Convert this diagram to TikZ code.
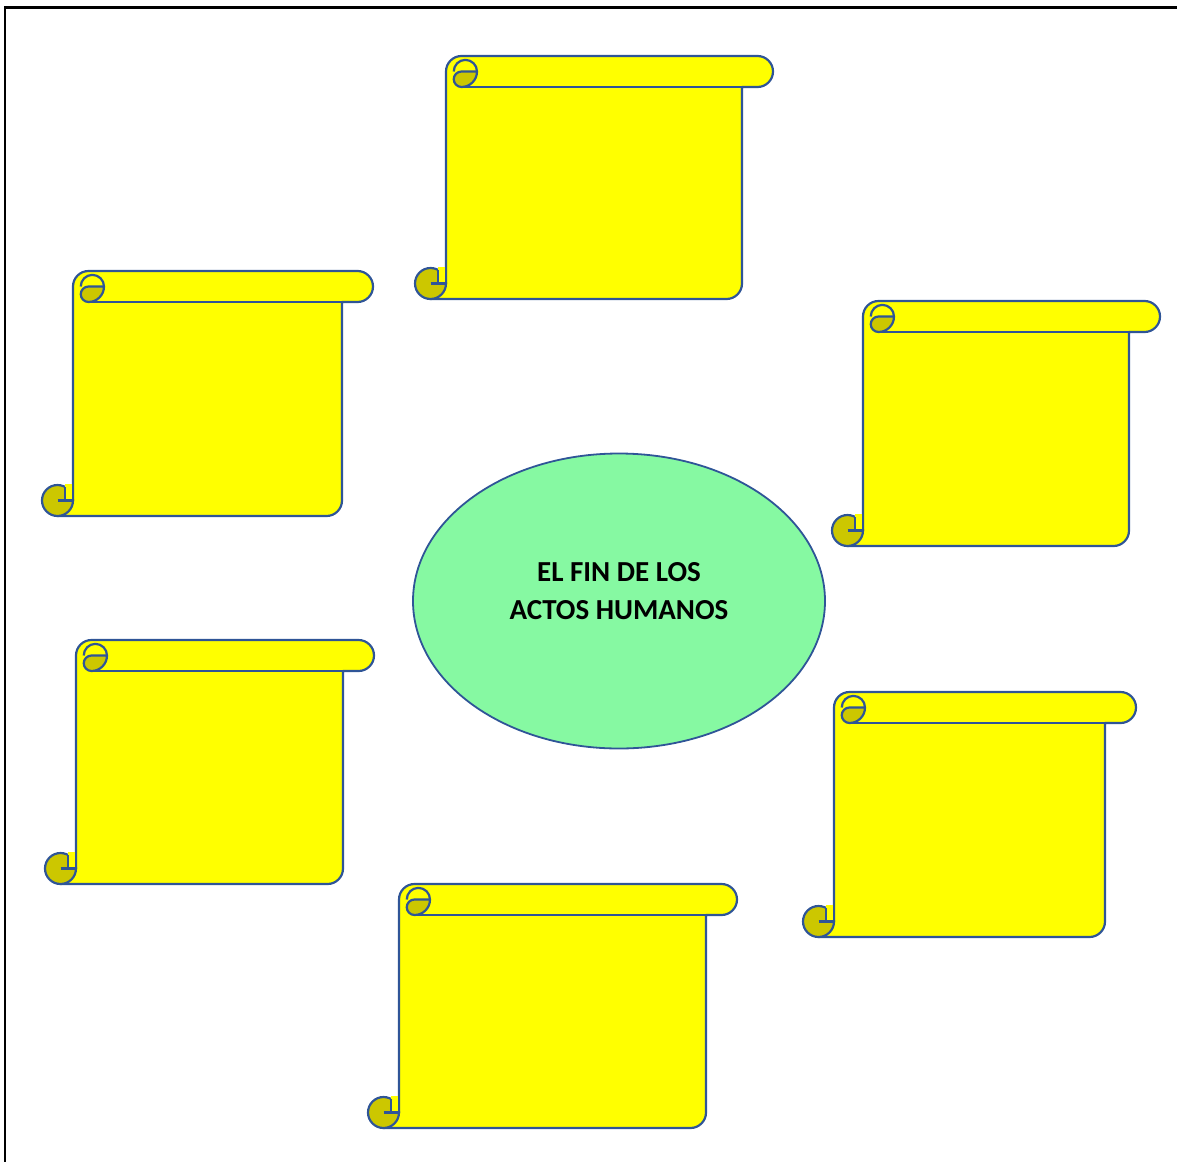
\documentclass[tikz,border=0pt]{standalone}
\usepackage{fontspec}
\setmainfont{Carlito}
\usetikzlibrary{shapes.geometric}
\definecolor{scrollfill}{HTML}{FFFF00}
\definecolor{curlfill}{HTML}{CCC700}
\definecolor{scrollborder}{HTML}{2F5597}
\definecolor{hubfill}{HTML}{86F9A2}
\tikzset{
  outline/.style={draw=scrollborder, line width=2.2pt, line join=round},
  sheet/.style={outline, fill=scrollfill},
  curl/.style={outline, fill=curlfill},
  hub/.style={ellipse, draw=scrollborder, line width=1.8pt, fill=hubfill, minimum width=412pt, minimum height=295pt, inner sep=0pt, align=center, text depth=20pt, font=\fontsize{29}{38}\selectfont\bfseries},
  frame/.style={draw=black, line width=2.5pt},
}
\newcommand{\rollh}{31}
\newcommand{\rollr}{15.5}
\newcommand{\curlr}{7.75}
% \scrollshape{name}{left}{top}{width}{height}
\newcommand{\scrollshape}[5]{%
  \begin{scope}[shift={(#2,-#3)}]
    \coordinate (#1) at (0,0);
    % sheet + roll
    \path[sheet] ({\rollh+\rollr},0) -- ({#4-\rollr},0) arc[start angle=90, end angle=-90, radius=\rollr]
      -- ({#4-\rollh},-\rollh) -- ({#4-\rollh},{-#5+\rollr}) arc[start angle=0, end angle=-90, radius=\rollr]
      -- (\rollr,-#5) -- (\rollh,{-#5+\rollr}) -- (\rollh,-\rollr)
      arc[start angle=180, end angle=90, radius=\rollr] -- cycle;
    \draw[outline] ({#4-\rollr},-\rollh) -- ({\rollh+\rollr},-\rollh);
    % top curl
    \path[curl] ({\rollh+\rollr},-\rollr) -- ({2*\rollh},-\rollr) arc[start angle=0, end angle=-90, radius=\rollr]
      arc[start angle=270, end angle=90, radius=\curlr] -- cycle;
    \draw[outline] ({\rollh+\curlr},-\rollr) arc[start angle=180, end angle=0, radius={(\rollh-\curlr)/2}];
    % bottom curl
    \path[curl] (\rollr,{-#5+\rollr}) circle[radius=\rollr];
    \fill[scrollfill] ({\rollr+\curlr},{-#5+\rollh+1.2}) rectangle ({\rollh-1.1},{-#5+\rollr});
    \draw[outline] ({\rollr+\curlr},{-#5+\rollr+13.4}) -- ({\rollr+\curlr},{-#5+\rollr});
    \draw[outline] (\rollr,{-#5+\rollr}) -- (\rollh,{-#5+\rollr}) -- (\rollh,{-#5+\rollh});
  \end{scope}%
}

\begin{document}
\begin{tikzpicture}[x=1pt, y=1pt]
\useasboundingbox (0,0) rectangle (1177,-1162);

% ===== Page frame =====
\draw[frame] (4,-7.5) -- (1177,-7.5);
\draw[frame] (5,-6.5) -- (5,-1162);

% ===== Scrolls =====
\scrollshape{top}{415}{56}{358}{243}
\scrollshape{upleft}{42}{271}{331}{245}
\scrollshape{upright}{832}{301}{328}{245}
\scrollshape{lowleft}{45}{640}{329}{244}
\scrollshape{lowright}{803}{692}{333}{245}
\scrollshape{bottom}{368}{884}{369}{244}

% ===== Centre =====
\node[hub] (topic) at (619,-601) {EL FIN DE LOS\\ACTOS HUMANOS};

\end{tikzpicture}
\end{document}
